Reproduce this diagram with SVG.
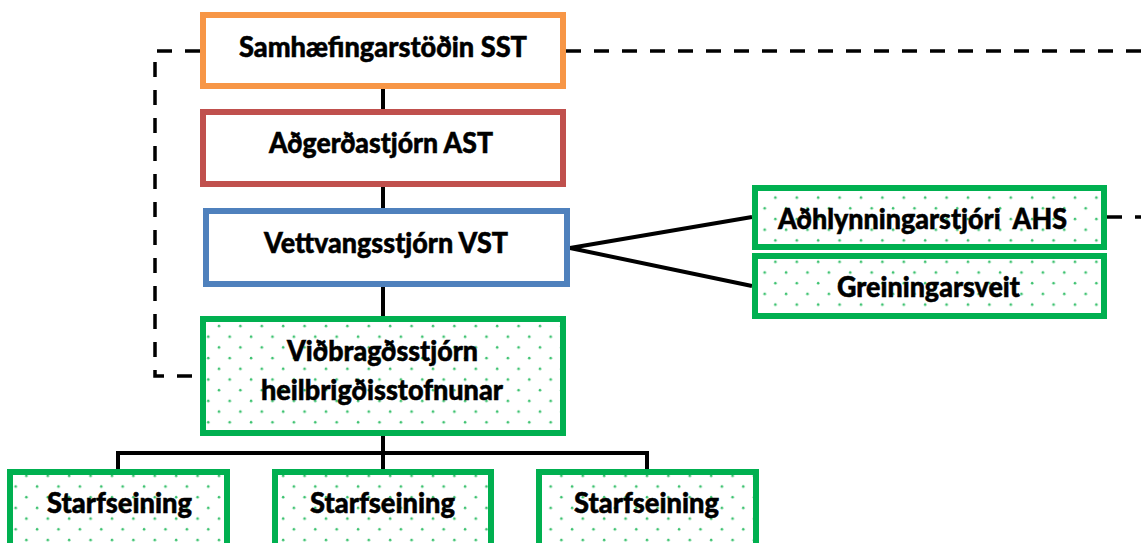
<svg xmlns="http://www.w3.org/2000/svg" width="1141" height="543" viewBox="0 0 1141 543">
<style>
.box{fill:#fff;stroke-width:6}
.dot{fill:url(#dots);stroke:#00B050;stroke-width:6}
.lbl{font-family:Lato,"Open Sans","Liberation Sans",sans-serif;font-weight:900;font-size:27.5px;fill:#000;stroke:#000;stroke-width:0.5}
.solid{stroke:#000;stroke-width:4;fill:none}
.dash{stroke:#000;stroke-width:3.5;fill:none;stroke-dasharray:15 13}
</style>
<defs>
<pattern id="dots" patternUnits="userSpaceOnUse" width="21.4" height="21.4">
<rect width="21.4" height="21.4" fill="#fff"/>
<circle cx="5" cy="5" r="1.3" fill="#3cc26f"/>
<circle cx="15.7" cy="15.7" r="1.3" fill="#3cc26f"/>
</pattern>
</defs>
<g id="connectors">
<path class="solid" d="M383 89V109M383 187V208M383 287V316M383 436V453M118 453H647M118 451V469M383 453V469M647 451V469"/>
<path class="solid" d="M570 248L752 217M570 248L752 286"/>
<path class="dash" d="M200 51H155V376H200"/>
<path class="dash" d="M566 51H1141"/>
<path class="dash" d="M1107 217H1141"/>
</g>
<g id="sst">
<rect class="box" x="203" y="15" width="360" height="71" stroke="#F79646"/>
<text class="lbl" x="383" y="57" text-anchor="middle" textLength="288" lengthAdjust="spacingAndGlyphs">Samhæfingarstöðin SST</text>
</g>
<g id="ast">
<rect class="box" x="203" y="112" width="360" height="72" stroke="#C0504D"/>
<text class="lbl" x="381" y="153" text-anchor="middle" textLength="224" lengthAdjust="spacingAndGlyphs">Aðgerðastjórn AST</text>
</g>
<g id="vst">
<rect class="box" x="206" y="211" width="361" height="73" stroke="#4F81BD"/>
<text class="lbl" x="386" y="253" text-anchor="middle" textLength="244" lengthAdjust="spacingAndGlyphs">Vettvangsstjórn VST</text>
</g>
<g id="vh">
<rect class="dot" x="203" y="319" width="360" height="114"/>
<text class="lbl" x="382.5" y="361" text-anchor="middle" textLength="191" lengthAdjust="spacingAndGlyphs">Viðbragðsstjórn</text>
<text class="lbl" x="382" y="400" text-anchor="middle" textLength="242" lengthAdjust="spacingAndGlyphs">heilbrigðisstofnunar</text>
</g>
<g id="ahs">
<rect class="dot" x="755" y="188" width="349" height="59"/>
<text class="lbl" x="922.5" y="229" text-anchor="middle" textLength="289" lengthAdjust="spacingAndGlyphs" xml:space="preserve">Aðhlynningarstjóri  AHS</text>
</g>
<g id="greining">
<rect class="dot" x="755" y="256" width="349" height="60"/>
<text class="lbl" x="928.5" y="297" text-anchor="middle" textLength="183" lengthAdjust="spacingAndGlyphs">Greiningarsveit</text>
</g>
<g id="starf1">
<rect class="dot" x="10" y="472" width="217" height="76"/>
<text class="lbl" x="119.5" y="513" text-anchor="middle" textLength="145" lengthAdjust="spacingAndGlyphs">Starfseining</text>
</g>
<g id="starf2">
<rect class="dot" x="275" y="472" width="216" height="76"/>
<text class="lbl" x="382.5" y="513" text-anchor="middle" textLength="145" lengthAdjust="spacingAndGlyphs">Starfseining</text>
</g>
<g id="starf3">
<rect class="dot" x="539" y="472" width="217" height="76"/>
<text class="lbl" x="646.5" y="513" text-anchor="middle" textLength="145" lengthAdjust="spacingAndGlyphs">Starfseining</text>
</g>
</svg>
